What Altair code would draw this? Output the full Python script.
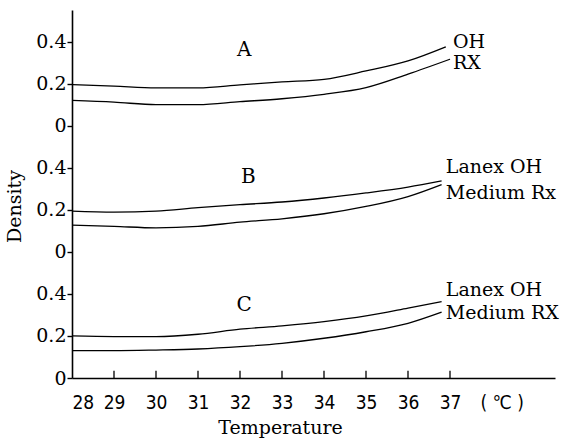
import altair as alt
import pandas as pd

# ---- data ----
temps_full = [28, 29, 30, 31, 32, 33, 34, 35, 36]

a_oh_x = temps_full + [36.9]
a_oh = [0.195, 0.188, 0.180, 0.180, 0.194, 0.208, 0.220, 0.260, 0.308, 0.375]
a_rx_x = temps_full + [37.0]
a_rx = [0.120, 0.112, 0.100, 0.100, 0.114, 0.128, 0.149, 0.181, 0.245, 0.316]

b_oh_x = temps_full + [36.8]
b_oh = [0.194, 0.189, 0.194, 0.210, 0.224, 0.237, 0.256, 0.280, 0.308, 0.337]
b_rx_x = temps_full + [36.8]
b_rx = [0.127, 0.121, 0.114, 0.121, 0.141, 0.157, 0.181, 0.216, 0.263, 0.320]

c_oh_x = temps_full + [36.8]
c_oh = [0.200, 0.197, 0.197, 0.208, 0.232, 0.248, 0.268, 0.295, 0.332, 0.363]
c_rx_x = temps_full + [36.8]
c_rx = [0.130, 0.130, 0.133, 0.138, 0.149, 0.165, 0.189, 0.220, 0.260, 0.313]

panel_offsets = {"A": 1.2, "B": 0.6, "C": 0.0}

x_tick_values = [28, 29, 30, 31, 32, 33, 34, 35, 36, 37]
unit_label_pos = 38.23
y_tick_values = [0, 0.2, 0.4, 0.6, 0.8, 1.0, 1.2, 1.4, 1.6]

panel_letters = ["A", "B", "C"]
panel_letter_x = [32.1, 32.2, 32.1]
panel_letter_y = [0.36, 0.355, 0.345]

side_texts = ["OH", "RX", "Lanex OH", "Medium Rx", "Lanex OH", "Medium RX"]
side_panels = ["A", "A", "B", "B", "C", "C"]
side_x = [37.07, 37.07, 36.9, 36.9, 36.9, 36.9]
side_y = [0.40, 0.30, 0.405, 0.28, 0.418, 0.308]

# ---- build tables ----
rows = []
series = [
    ("A", "OH", a_oh_x, a_oh), ("A", "RX", a_rx_x, a_rx),
    ("B", "OH", b_oh_x, b_oh), ("B", "RX", b_rx_x, b_rx),
    ("C", "OH", c_oh_x, c_oh), ("C", "RX", c_rx_x, c_rx),
]
for panel, name, xs, ys in series:
    for t, d in zip(xs, ys):
        rows.append({"key": panel + name, "temp": t, "density": d,
                     "y": d + panel_offsets[panel]})
df = pd.DataFrame(rows)

letters = pd.DataFrame({
    "text": panel_letters,
    "x": panel_letter_x,
    "y": [v + panel_offsets[p] for v, p in zip(panel_letter_y, panel_letters)],
})
sides = pd.DataFrame({
    "text": side_texts,
    "x": side_x,
    "y": [v + panel_offsets[p] for v, p in zip(side_y, side_panels)],
})
ticks = pd.DataFrame({"temp": x_tick_values[1:], "y0": 0.0, "y1": 0.035})

SERIF = "DejaVu Serif"
SANS = "DejaVu Sans Condensed, DejaVu Sans"

x_scale = alt.Scale(domain=[28, 39.5], nice=False, zero=False)
y_scale = alt.Scale(domain=[0, 1.75], nice=False)

x_axis = alt.Axis(
    values=x_tick_values + [unit_label_pos],
    labelExpr="datum.value > 37.5 ? '( ℃ )' : datum.label",
    ticks=False, grid=False, labelPadding=15,
    labelFont=SANS, labelFontSize=19, labelColor="black",
    domainColor="black", domainWidth=1.6,
    title="Temperature", titleFont=SERIF, titleFontSize=19,
    titleFontWeight="normal", titleColor="black",
    titleX=208, titleY=55, titleBaseline="alphabetic", titleAlign="center",
)
y_axis = alt.Axis(
    values=y_tick_values,
    labelExpr="round(datum.value*5) % 3 == 0 ? '0' : (round(datum.value*5) % 3 == 1 ? '0.2' : '0.4')",
    grid=False, tickSize=5, tickColor="black", tickWidth=1.4, labelPadding=1,
    labelFont=SERIF, labelFontSize=19, labelColor="black",
    domainColor="black", domainWidth=1.6,
    title="Density", titleFont=SERIF, titleFontSize=19,
    titleFontWeight="normal", titleColor="black",
    titleAngle=-90, titleX=-52, titleY=196, titleBaseline="alphabetic",
    titleAlign="center",
)

lines = alt.Chart(df).mark_line(color="black", strokeWidth=1.3,
                                interpolate="monotone").encode(
    x=alt.X("temp:Q", scale=x_scale, axis=x_axis),
    y=alt.Y("y:Q", scale=y_scale, axis=y_axis),
    detail="key:N",
)

tick_marks = alt.Chart(ticks).mark_rule(color="black", strokeWidth=1.3).encode(
    x=alt.X("temp:Q", scale=x_scale),
    y=alt.Y("y0:Q", scale=y_scale),
    y2="y1:Q",
)

letter_text = alt.Chart(letters).mark_text(
    font=SERIF, fontSize=20, color="black", align="center", baseline="middle"
).encode(
    x=alt.X("x:Q", scale=x_scale), y=alt.Y("y:Q", scale=y_scale), text="text:N"
)

side_text = alt.Chart(sides).mark_text(
    font=SERIF, fontSize=19, color="black", align="left", baseline="middle"
).encode(
    x=alt.X("x:Q", scale=x_scale), y=alt.Y("y:Q", scale=y_scale), text="text:N"
)

chart = alt.layer(lines, tick_marks, letter_text, side_text).properties(
    width=483, height=368,
    autosize=alt.AutoSizeParams(type="none"),
    padding={"left": 72, "top": 10, "right": 16, "bottom": 62},
    background="white",
).configure_view(stroke=None)

chart.save("out.html", embed_options={"renderer": "svg", "actions": False})
